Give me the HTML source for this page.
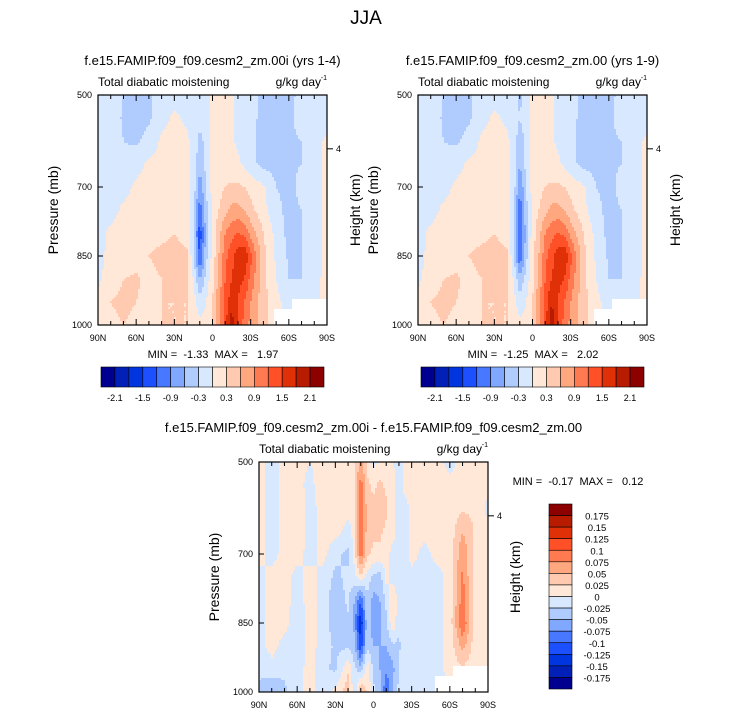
<!DOCTYPE html>
<html><head><meta charset="utf-8"><style>
body{margin:0;background:#fff;}
svg{display:block;font-family:"Liberation Sans",sans-serif;}
svg text{white-space:pre;}
</style></head><body>
<svg id="chart" width="733" height="716" viewBox="0 0 733 716"></svg>
<script>
const lats=[90,80,70,60,50,40,30,20,15,10,5,0,-5,-10,-15,-20,-25,-30,-40,-50,-60,-70,-80,-90];
const pressures=[500,550,600,650,700,750,800,850,900,950,1000];
const panel1Values=[
[-0.1,-0.1,-0.3,-0.35,-0.35,-0.1,-0.1,-0.05,-0.05,-0.35,-0.1,0.05,0.1,0.1,0.05,-0.05,-0.1,-0.2,-0.4,-0.4,-0.4,-0.2,-0.1,-0.1],
[-0.1,-0.1,-0.35,-0.4,-0.35,-0.1,0.05,-0.05,-0.1,-0.2,-0.1,0.1,0.15,0.1,0.05,-0.1,-0.1,-0.2,-0.4,-0.4,-0.35,-0.2,-0.1,-0.1],
[-0.1,-0.1,-0.3,-0.35,-0.2,0.05,0.1,0.05,-0.1,-0.4,-0.2,0.1,0.2,0.15,0.05,-0.05,-0.1,-0.2,-0.45,-0.4,-0.35,-0.3,-0.1,0.05],
[-0.1,-0.1,-0.2,-0.1,0.05,0.1,0.15,0.1,-0.1,-0.5,-0.2,0.1,0.25,0.2,0.1,0.05,-0.05,-0.2,-0.4,-0.4,-0.35,-0.3,-0.1,0.05],
[-0.1,-0.1,-0.1,0.05,0.1,0.15,0.15,0.1,-0.1,-0.8,-0.3,0.1,0.2,0.3,0.35,0.35,0.3,0.2,0.05,-0.3,-0.4,-0.2,-0.1,0.05],
[-0.1,-0.1,0.05,0.1,0.1,0.15,0.2,0.1,-0.2,-1.1,-0.4,0.1,0.3,0.5,0.7,0.7,0.6,0.4,0.1,-0.2,-0.4,-0.3,-0.1,0.05],
[-0.1,0.05,0.1,0.1,0.15,0.2,0.3,0.2,-0.3,-1.4,-0.5,0.1,0.5,0.9,1.1,1.2,1.1,0.8,0.3,-0.1,-0.4,-0.3,-0.1,0.05],
[-0.05,0.05,0.15,0.15,0.3,0.4,0.4,0.35,-0.2,-1.3,-0.4,0.1,0.6,1.1,1.4,1.7,1.8,1.3,0.4,-0.05,-0.35,-0.3,-0.1,0.05],
[-0.05,0.1,0.3,0.35,0.2,0.3,0.4,0.35,0.0,-0.6,-0.2,0.2,0.7,1.2,1.5,1.6,1.5,1.1,0.4,0.0,-0.3,-0.3,-0.05,0.05],
[0.05,0.3,0.4,0.3,0.2,0.3,0.3,0.3,0.15,-0.2,0.0,0.3,0.8,1.3,1.7,1.5,1.2,0.9,0.4,0.1,-0.15,-0.2,-0.05,0.05],
[0.05,0.2,0.3,0.2,0.2,0.3,0.3,0.3,0.2,0.1,0.1,0.3,0.8,1.4,2.0,1.5,1.1,0.8,0.4,0.1,0.0,-0.1,0.0,0.0]];
const panel2Values=[
[-0.1,-0.1,-0.3,-0.35,-0.35,-0.1,-0.1,-0.05,-0.05,-0.4,-0.1,0.05,0.1,0.1,0.05,-0.05,-0.1,-0.2,-0.4,-0.4,-0.4,-0.2,-0.1,-0.1],
[-0.1,-0.1,-0.35,-0.4,-0.35,-0.1,0.05,-0.05,-0.1,-0.3,-0.1,0.1,0.15,0.1,0.05,-0.1,-0.1,-0.2,-0.4,-0.4,-0.35,-0.2,-0.1,-0.1],
[-0.1,-0.1,-0.3,-0.35,-0.2,0.05,0.1,0.05,-0.1,-0.5,-0.2,0.1,0.2,0.15,0.05,-0.05,-0.1,-0.2,-0.45,-0.4,-0.35,-0.3,-0.1,0.05],
[-0.1,-0.1,-0.2,-0.1,0.05,0.1,0.15,0.1,-0.1,-0.6,-0.2,0.1,0.25,0.2,0.1,0.05,-0.05,-0.2,-0.4,-0.4,-0.35,-0.3,-0.1,0.05],
[-0.1,-0.1,-0.1,0.05,0.1,0.15,0.15,0.1,-0.1,-0.9,-0.3,0.1,0.2,0.3,0.35,0.35,0.3,0.2,0.05,-0.3,-0.4,-0.2,-0.1,0.05],
[-0.1,-0.1,0.05,0.1,0.1,0.15,0.2,0.1,-0.2,-1.1,-0.4,0.1,0.3,0.5,0.7,0.7,0.6,0.4,0.1,-0.2,-0.4,-0.3,-0.1,0.05],
[-0.1,0.05,0.1,0.1,0.15,0.2,0.3,0.2,-0.3,-1.3,-0.5,0.15,0.5,0.9,1.1,1.2,1.1,0.8,0.3,-0.1,-0.4,-0.3,-0.1,0.05],
[-0.05,0.05,0.15,0.15,0.3,0.4,0.4,0.35,-0.2,-1.2,-0.4,0.15,0.6,1.1,1.4,1.7,1.8,1.3,0.4,-0.05,-0.35,-0.3,-0.1,0.05],
[-0.05,0.1,0.3,0.35,0.2,0.3,0.4,0.35,0.0,-0.5,-0.2,0.2,0.7,1.2,1.5,1.6,1.5,1.1,0.4,0.0,-0.3,-0.3,-0.05,0.05],
[0.05,0.3,0.4,0.3,0.2,0.3,0.3,0.3,0.15,-0.2,0.0,0.3,0.8,1.3,1.8,1.5,1.2,0.9,0.4,0.1,-0.15,-0.2,-0.05,0.05],
[0.05,0.2,0.3,0.2,0.2,0.3,0.3,0.3,0.2,0.1,0.1,0.3,0.8,1.4,2.05,1.5,1.1,0.8,0.4,0.1,0.0,-0.1,0.0,0.0]];
const diffValues=[
[0.01,-0.01,0.01,0.01,0.0,0.01,0.02,0.01,0.02,0.06,0.02,-0.01,0.01,0.01,0.0,-0.01,0.01,0.01,0.01,0.01,-0.01,0.01,0.02,0.01],
[0.01,-0.01,0.01,0.01,-0.01,0.02,0.01,0.01,0.02,0.09,0.03,0.02,0.03,0.02,0.01,-0.01,0.01,0.01,0.01,0.01,0.01,0.01,0.02,0.01],
[0.01,-0.01,0.01,0.02,-0.01,0.01,0.02,0.01,0.01,0.11,0.04,0.03,0.04,0.03,0.01,-0.01,-0.01,0.01,0.01,0.01,0.01,0.02,0.02,-0.01],
[0.01,-0.01,0.01,0.02,-0.01,0.01,0.01,-0.01,0.01,0.1,0.04,0.03,0.03,0.02,0.01,-0.01,-0.01,0.01,0.01,0.01,0.01,0.05,0.02,0.01],
[0.01,-0.01,0.01,0.01,-0.01,0.01,-0.02,-0.03,0.01,0.09,0.03,0.02,0.02,0.01,-0.01,-0.01,-0.01,0.01,-0.01,0.01,0.01,0.07,0.02,0.01],
[-0.01,0.01,0.01,-0.01,0.01,-0.01,-0.03,-0.02,-0.01,0.02,-0.01,-0.03,-0.04,0.01,-0.01,-0.01,-0.01,-0.01,-0.01,-0.01,0.01,0.08,0.01,0.01],
[-0.01,0.01,0.01,-0.01,0.01,-0.01,-0.04,-0.02,-0.05,-0.1,-0.03,-0.06,-0.05,-0.02,0.02,-0.01,-0.01,-0.01,-0.01,-0.01,0.01,0.09,0.01,0.01],
[-0.01,0.01,0.01,-0.02,0.01,-0.01,-0.04,-0.03,-0.06,-0.15,-0.03,-0.07,-0.06,-0.03,0.02,-0.02,-0.01,-0.01,-0.01,-0.01,0.01,0.1,0.01,0.01],
[-0.01,0.01,-0.01,-0.02,0.01,-0.01,-0.03,-0.03,-0.04,-0.12,-0.03,-0.05,-0.05,-0.05,-0.03,-0.03,-0.01,-0.02,-0.01,-0.01,0.01,0.06,0.01,0.01],
[-0.02,-0.01,-0.02,-0.01,0.01,-0.02,-0.03,0.02,-0.02,-0.04,0.02,-0.03,-0.05,-0.07,-0.06,-0.02,-0.01,-0.01,-0.01,-0.01,0.01,0.02,0.01,0.01],
[-0.03,-0.05,-0.03,-0.01,0.01,-0.02,0.01,0.04,-0.02,0.06,0.02,-0.02,-0.04,-0.1,-0.05,-0.02,-0.01,-0.01,-0.01,-0.01,0.0,0.01,0.01,0.01]];
const missingLats=[-49,-63];
const missingTopP=[965,942];
const xTickLabels=["90N","60N","30N","0","30S","60S","90S"];
const xTickLats=[90,60,30,0,-30,-60,-90];
const yTickLabels=["500","700","850","1000"];
const yTickP=[500,700,850,1000];
const levels1=[-2.1,-1.8,-1.5,-1.2,-0.9,-0.6,-0.3,0,0.3,0.6,0.9,1.2,1.5,1.8,2.1];
const hLabels1=["-2.1","-1.5","-0.9","-0.3","0.3","0.9","1.5","2.1"];
const levels3=[-0.175,-0.15,-0.125,-0.1,-0.075,-0.05,-0.025,0,0.025,0.05,0.075,0.1,0.125,0.15,0.175];
const vLabels3=["0.175","0.15","0.125","0.1","0.075","0.05","0.025","0","-0.025","-0.05","-0.075","-0.1","-0.125","-0.15","-0.175"];
const colors=["#000090","#0020b8","#0035e0","#1c50ff","#4878ff","#80a8ff","#b0ccff","#d8e8ff","#ffe8d8","#ffcab0","#ffa880","#ff7a50","#ff5028","#e03008","#b81c00","#8c0000"];

const NS="http://www.w3.org/2000/svg";
const svg=document.getElementById('chart');
function mk(tag,attrs,parent){const e=document.createElementNS(NS,tag);for(const k in attrs)e.setAttribute(k,attrs[k]);(parent||svg).appendChild(e);return e;}
function txt(s,x,y,size,anchor,parent,extra){const t=mk('text',Object.assign({x:x,y:y,'font-size':size,'text-anchor':anchor||'middle',fill:'#000'},extra||{}),parent);t.textContent=s;return t;}
function colorFor(v,lv){let i=0;while(i<lv.length&&v>=lv[i])i++;return colors[i];}
function isMissing(lat,p){for(let k=0;k<missingLats.length;k++){if(lat<=missingLats[k]&&p>=missingTopP[k])return true;}return false;}
function interp(vals,lat,p){
  let j=0;while(j<lats.length-2&&lat<lats[j+1])j++;
  let i=0;while(i<pressures.length-2&&p>pressures[i+1])i++;
  const tx=(lats[j]-lat)/(lats[j]-lats[j+1]);const ty=(p-pressures[i])/(pressures[i+1]-pressures[i]);
  const a=vals[i][j],b=vals[i][j+1],c=vals[i+1][j],d=vals[i+1][j+1];
  return a*(1-tx)*(1-ty)+b*tx*(1-ty)+c*(1-tx)*ty+d*tx*ty;
}
function panel(name,vals,lv,x0,y0,title,hx){
  const W=229,H=230;
  const g=mk('g',{},svg);
  
  
  const xs=lat=>x0+(90-lat)/180*W;
  const ys=p=>y0+(p-500)/500*H;
  const step=2;
  for(let py=0;py<H;py+=step){
    let runStart=0,runColor=null;
    for(let px=0;px<W+step;px+=step){
      let c=null;
      if(px<W){const lat=90-(px+step/2)/W*180;const p=500+(py+step/2)/H*500;c=isMissing(lat,p)?'#ffffff':colorFor(interp(vals,lat,p),lv);}
      if(c!==runColor){
        if(runColor!==null)mk('rect',{x:x0+runStart,y:y0+py,width:Math.min(px,W)-runStart+0.4,height:Math.min(step+0.4,H-py),fill:runColor},g);
        runStart=px;runColor=c;
      }
    }
  }
  mk('rect',{x:x0,y:y0,width:W,height:H,fill:'none',stroke:'#000','stroke-width':1.2},g);
  for(let lat=90;lat>=-90;lat-=5){const X=xs(lat);const major=lat%30===0;const L=major?6:(lat%10===0?4:0);if(!L)continue;
    mk('line',{x1:X,y1:y0+H,x2:X,y2:y0+H-L,stroke:'#000'},g);mk('line',{x1:X,y1:y0,x2:X,y2:y0+L,stroke:'#000'},g);}
  xTickLabels.forEach((s,k)=>{const t=txt(s,xs(xTickLats[k]),y0+H+16,9,'middle',g);});
  yTickLabels.forEach((s,k)=>{const Y=ys(yTickP[k]);mk('line',{x1:x0,y1:Y,x2:x0+5,y2:Y,stroke:'#000'},g);const t=txt(s,x0-6,Y+3,9,'end',g);});
  const hy=ys(617);mk('line',{x1:x0+W,y1:hy,x2:x0+W+6,y2:hy,stroke:'#000'},g);txt('4',x0+W+9,hy+3,9,'start',g);
  const yt=txt('Pressure (mb)',0,0,14,'middle',g,{transform:`translate(${x0-40},${y0+H/2}) rotate(-90)`});
  
  const ht=txt('Height (km)',0,0,14,'middle',g,{transform:`translate(${hx},${y0+H/2}) rotate(-90)`});
  
  const tt=txt(title,x0+W/2,y0-30,13,'middle',g);
  txt('Total diabatic moistening',x0,y0-9,12,'start',g);
  txt('g/kg day',x0+W-6,y0-9,12,'end',g);
  txt('-1',x0+W,y0-15,7,'end',g);
}
const jt=txt('JJA',366,24,19,'middle');
panel('panel-yrs-1-4',panel1Values,levels1,98,95,'f.e15.FAMIP.f09_f09.cesm2_zm.00i (yrs 1-4)',360);
panel('panel-yrs-1-9',panel2Values,levels1,418,95,'f.e15.FAMIP.f09_f09.cesm2_zm.00 (yrs 1-9)',680);
panel('panel-difference',diffValues,levels3,259,462,'f.e15.FAMIP.f09_f09.cesm2_zm.00i - f.e15.FAMIP.f09_f09.cesm2_zm.00',520);
txt('MIN =  -1.33  MAX =   1.97',213,358,11);
txt('MIN =  -1.25  MAX =   2.02',533,358,11);
txt('MIN =  -0.17  MAX =   0.12',578,485,11);
function hbar(name,x0){
  const g=mk('g',{},svg);
  
  
  const W=223,y0=367,H=20,w=W/16;
  colors.forEach((c,k)=>mk('rect',{x:x0+k*w,y:y0,width:w,height:H,fill:c,stroke:'#000','stroke-width':0.6},g));
  hLabels1.forEach((s,k)=>txt(s,x0+(2*k+1)*w,y0+H+14,9,'middle',g));
}
hbar('colorbar-yrs-1-4',101);
hbar('colorbar-yrs-1-9',421);
(function(){
  const g=mk('g',{},svg);
  
  
  const x0=549,y0=504,W=23,H=185,h=H/16;
  colors.slice().reverse().forEach((c,k)=>mk('rect',{x:x0,y:y0+k*h,width:W,height:h,fill:c,stroke:'#000','stroke-width':0.6},g));
  vLabels3.forEach((s,k)=>txt(s,597,y0+(k+1)*h+4,9.5,'middle',g));
})();
</script>
</body></html>
